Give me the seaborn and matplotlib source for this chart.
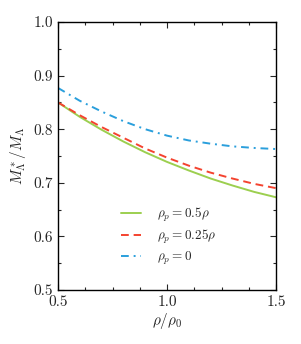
import matplotlib
matplotlib.use("Agg")
import matplotlib.pyplot as plt
import seaborn as sns
import numpy as np
from matplotlib.ticker import MultipleLocator

# density ratio rho/rho0
rho = [0.5, 0.6, 0.7, 0.8, 0.9, 1.0, 1.1, 1.2, 1.3, 1.4, 1.5]

# effective mass ratio M*_Lambda / M_Lambda
mass_half = [0.850, 0.823, 0.799, 0.777, 0.757, 0.739, 0.723, 0.708, 0.695, 0.683, 0.673]
mass_quarter = [0.850, 0.826, 0.804, 0.784, 0.764, 0.747, 0.732, 0.719, 0.708, 0.698, 0.690]
mass_zero = [0.877, 0.853, 0.833, 0.815, 0.800, 0.788, 0.779, 0.773, 0.768, 0.765, 0.763]

labels = [r"$\rho_p = 0.5\rho$", r"$\rho_p = 0.25\rho$", r"$\rho_p = 0$"]
colors = ["#9ccf4f", "#f4432f", "#2a9fdc"]

sns.set_style("ticks")
plt.rcParams["font.family"] = "serif"
plt.rcParams["font.serif"] = ["cmr10", "DejaVu Serif"]
plt.rcParams["mathtext.fontset"] = "cm"
plt.rcParams["axes.formatter.use_mathtext"] = True

fig = plt.figure(figsize=(3.01, 3.44), dpi=100)
ax = fig.add_axes([0.1927, 0.157, 0.7243, 0.779])

sns.lineplot(x=rho, y=mass_half, color=colors[0], lw=1.4, label=labels[0], ax=ax)
sns.lineplot(x=rho, y=mass_quarter, color=colors[1], lw=1.4, label=labels[1], ax=ax)
sns.lineplot(x=rho, y=mass_zero, color=colors[2], lw=1.4, label=labels[2], ax=ax)
ax.lines[1].set_dashes([4, 2.5])
ax.lines[2].set_dashes([4, 2.5, 1, 2.5])

ax.set_xlim(0.5, 1.5)
ax.set_ylim(0.5, 1.0)
ax.xaxis.set_minor_locator(MultipleLocator(0.125))
ax.yaxis.set_minor_locator(MultipleLocator(0.05))
ax.set_xticks([0.5, 1.0, 1.5])
ax.set_xticklabels(["0.5", "1.0", "1.5"])
ax.set_yticks([0.5, 0.6, 0.7, 0.8, 0.9, 1.0])
ax.set_yticklabels(["0.5", "0.6", "0.7", "0.8", "0.9", "1.0"])
ax.tick_params(which="both", direction="in", top=True, right=True, labelsize=11, width=0.8)
ax.tick_params(which="major", length=4)
ax.tick_params(which="minor", length=2.5)
for s in ax.spines.values():
    s.set_linewidth(1.0)
    s.set_color("black")

ax.set_xlabel(r"$\rho/\rho_0$", fontsize=11, labelpad=2)
ax.set_ylabel(r"$M^*_\Lambda/M_\Lambda$", fontsize=11, labelpad=4)

leg = ax.legend(loc="lower left", bbox_to_anchor=(0.235, 0.042), frameon=False,
                fontsize=9.5, handlelength=1.5, handletextpad=1.2, labelspacing=0.3)
for h in leg.get_lines():
    h.set_linewidth(1.4)
leg.get_lines()[1].set_dashes([4, 2.5])
leg.get_lines()[2].set_dashes([4, 2.5, 1, 2.5])

fig.savefig("out.png", dpi=100)
